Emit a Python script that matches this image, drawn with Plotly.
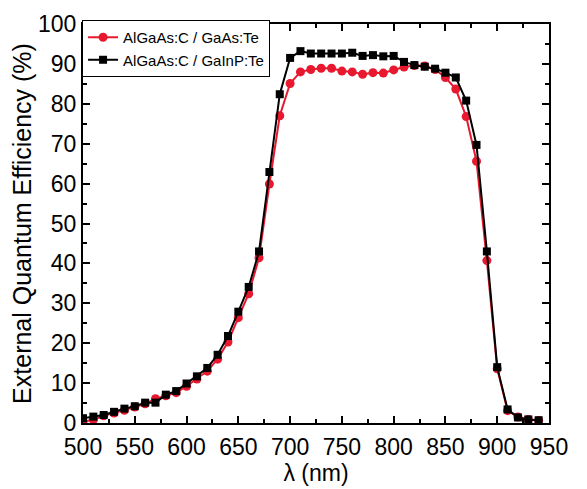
import plotly.graph_objects as go

wavelength = list(range(500, 950, 10))

eqe_gaas = [0.3, 0.8, 1.8, 2.5, 3.2, 4.0, 4.8, 6.1, 6.8, 7.6,
            9.2, 11.0, 13.0, 16.0, 20.3, 26.4, 32.4, 41.4, 59.9, 77.0,
            85.1, 88.0, 88.6, 88.9, 88.9, 88.2, 88.0, 87.4, 87.8, 87.7,
            88.5, 89.2, 89.6, 89.5, 88.6, 86.6, 83.7, 76.8, 65.6, 40.7,
            13.6, 3.1, 1.5, 0.9, 0.6]

eqe_gainp = [1.2, 1.6, 2.0, 2.8, 3.6, 4.2, 5.1, 5.1, 7.1, 8.0,
             9.9, 11.7, 13.8, 17.1, 21.8, 27.9, 34.1, 43.0, 62.9, 82.4,
             91.5, 93.2, 92.6, 92.6, 92.6, 92.6, 92.8, 92.0, 92.2, 91.9,
             92.0, 90.5, 89.7, 89.3, 88.8, 87.8, 86.6, 80.8, 69.7, 43.0,
             14.0, 3.4, 1.4, 0.9, 0.7]

names = ["AlGaAs:C / GaAs:Te", "AlGaAs:C / GaInP:Te"]
colors = ["#e8182f", "#000000"]

FONT = "Liberation Sans, Arial"

fig = go.Figure()
fig.add_trace(go.Scatter(x=wavelength, y=eqe_gaas, name=names[0], mode="lines+markers",
                         line=dict(color=colors[0], width=2),
                         marker=dict(symbol="circle", size=9, color=colors[0])))
fig.add_trace(go.Scatter(x=wavelength, y=eqe_gainp, name=names[1], mode="lines+markers",
                         line=dict(color=colors[1], width=2),
                         marker=dict(symbol="square", size=8, color=colors[1])))

axis_common = dict(showline=True, linecolor="black", linewidth=2, mirror="ticks",
                   ticks="inside", ticklen=7, tickwidth=2, tickcolor="black",
                   showgrid=False, zeroline=False, automargin=False,
                   tickfont=dict(family=FONT, size=23, color="black"))

fig.update_xaxes(range=[500, 950], tick0=500, dtick=50, ticklabelstandoff=2,
                 minor=dict(ticks="inside", ticklen=4, tickwidth=2, dtick=25, tickcolor="black"),
                 title=dict(text="λ (nm)", font=dict(family=FONT, size=23, color="black"),
                            standoff=2),
                 **axis_common)
fig.update_yaxes(range=[0, 100], tick0=0, dtick=10, ticklabelstandoff=0,
                 minor=dict(ticks="inside", ticklen=4, tickwidth=2, dtick=5, tickcolor="black"),
                 title=dict(text="External Quantum Efficiency (%)",
                            font=dict(family=FONT, size=25, color="black"),
                            standoff=4),
                 **axis_common)

fig.update_layout(
    width=587, height=489,
    margin=dict(l=75, r=46, t=13, b=74),
    paper_bgcolor="white", plot_bgcolor="white",
    showlegend=True,
    legend=dict(x=-0.002, y=1.01, xanchor="left", yanchor="top",
                bordercolor="black", borderwidth=1, bgcolor="white",
                font=dict(family=FONT, size=15, color="black"),
                tracegroupgap=0, itemwidth=30),
)

fig.write_html("out.html")
